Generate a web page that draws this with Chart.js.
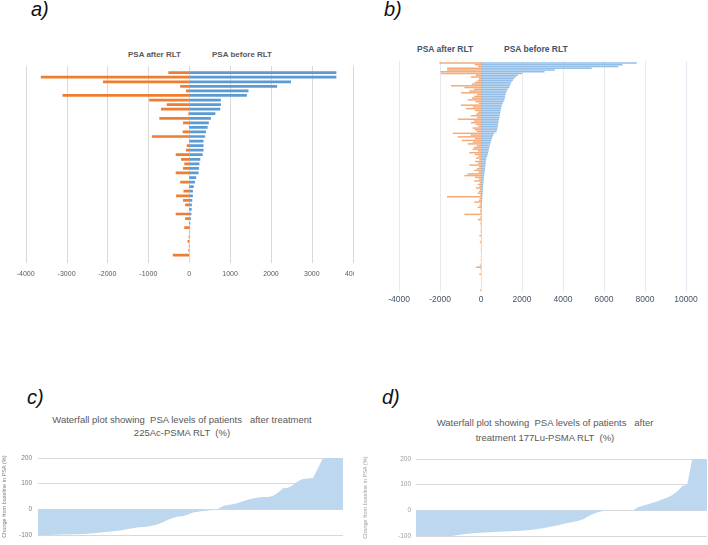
<!DOCTYPE html>
<html>
<head>
<meta charset="utf-8">
<script src="https://cdn.jsdelivr.net/npm/chart.js@4"></script>
<style>
  html, body { margin: 0; padding: 0; background: #fff; }
  body { position: relative; width: 708px; height: 545px; overflow: hidden; font-family: "Liberation Sans", Arial, sans-serif; }
  .box { position: absolute; overflow: hidden; }
  .panel-label { position: absolute; font-style: italic; font-size: 20px; line-height: 20px; color: #111; }
  .head { position: absolute; font-weight: bold; white-space: pre; }
  .title { position: absolute; text-align: center; white-space: pre; color: #595959; font-size: 9.5px; }
  canvas { position: absolute; left: 0; top: 0; }
</style>
</head>
<body>

<div class="panel-label" style="left:31px; top:-1px;">a)</div>
<div class="panel-label" style="left:384px; top:-1px;">b)</div>
<div class="panel-label" style="left:27px; top:387px;">c)</div>
<div class="panel-label" style="left:382px; top:387px;">d)</div>

<div class="head" style="left:128px; top:50px; font-size:8px; color:#595959;">PSA after RLT</div>
<div class="head" style="left:212px; top:50px; font-size:8px; color:#595959;">PSA before RLT</div>
<div class="head" style="left:417px; top:44px; font-size:8.5px; color:#44546A;">PSA after RLT</div>
<div class="head" style="left:504px; top:44px; font-size:8.5px; color:#44546A;">PSA before RLT</div>

<div class="title" style="left:0px; top:413px; width:364px; line-height:13px;">Waterfall plot showing  PSA levels of patients   after treatment
225Ac-PSMA RLT  (%)</div>
<div class="title" style="left:370px; top:416px; width:350px; line-height:14.5px;">Waterfall plot showing  PSA levels of patients   after
treatment 177Lu-PSMA RLT  (%)</div>

<div class="box" style="left:0px; top:0px; width:354px; height:290px;">
  <canvas id="chartA" width="390" height="290"></canvas>
</div>
<div class="box" style="left:354px; top:0px; width:354px; height:320px;">
  <canvas id="chartB" width="354" height="320"></canvas>
</div>
<div class="box" style="left:0px; top:440px; width:354px; height:105px;">
  <canvas id="chartC" width="354" height="105"></canvas>
</div>
<div class="box" style="left:354px; top:440px; width:354px; height:105px;">
  <canvas id="chartD" width="354" height="105"></canvas>
</div>

<script>
// panel a) PSA before / after RLT (225Ac)
const aBefore = [3600, 3600, 2490, 2150, 1450, 1410, 775, 775, 760, 640, 530, 480, 450, 410, 390, 350, 350, 350, 330, 270,
  250, 240, 230, 170, 140, 110, 90, 90, 75, 65, 60, 55, 40, 25, 15, 10, 8, 5, 5, 3, 2];
const aAfter = [-510, -3630, -2110, -220, -80, -3100, -980, -550, -690, -20, -730, -150, 0, -160, -910, 0, -60, -80, -330, -200,
  -120, -150, -330, 0, -220, 0, -140, -320, -150, -100, 0, -330, -100, 0, -120, 0, -15, -40, -10, -20, -400];
const aTicks = [-4000, -3000, -2000, -1000, 0, 1000, 2000, 3000, 4000];

// panel b) PSA before / after RLT (177Lu)
const bBefore = [7600, 6900, 6700, 5400, 3600, 3100, 2000, 1800, 1700, 1600,
  1550, 1480, 1450, 1400, 1380, 1300, 1260, 1220, 1200, 1180,
  1160, 1140, 1100, 1060, 1020, 990, 980, 960, 950, 930,
  910, 900, 880, 860, 850, 830, 820, 810, 780, 760,
  640, 600, 560, 530, 500, 480, 450, 430, 410, 390,
  370, 350, 330, 300, 270, 250, 240, 230, 220, 210,
  200, 190, 175, 165, 155, 145, 135, 130, 120, 110,
  100, 95, 90, 85, 80, 75, 70, 65, 60, 55,
  50, 45, 40, 35, 30, 28, 27, 26, 25, 24,
  23, 22, 21, 20, 20, 19, 18, 18, 17, 16,
  16, 15, 15, 14, 14, 13, 13, 12, 12, 11,
  11, 10, 10, 9, 9, 8, 8, 7, 7, 6,
  6, 5, 5, 4, 4, 3, 3, 3, 2, 2];
const bAfter = [-2030, -300, -150, -1650, -1660, -1980, -1950, -250, -490, -100,
  -160, -300, -450, -1460, -810, -350, -570, -980, -200, -330,
  -450, -650, -280, -120, -980, -400, -730, -300, -150, -240,
  -500, -200, -1140, -350, -490, -250, -120, -410, -300, -200,
  -1380, -500, -1140, -300, -940, -400, -650, -200, -350, -410,
  -150, -570, -300, -120, -240, -80, -300, -150, -570, -100,
  -200, -330, -120, -650, -810, -300, -100, -330, -60, -160,
  -80, -240, -50, -100, -160, -40, -1660, -60, -100, -330,
  -30, -80, -160, -20, -50, -30, -810, -20, -40, -160,
  -10, -30, -20, 0, -15, -10, -20, 0, -80, -10,
  0, -20, -60, 0, -10, 0, -20, 0, -5, 0,
  -10, 0, -15, 0, -20, -60, -240, -30, 0, -10,
  -80, 0, 0, -10, 0, 0, -5, 0, 0, -50];
const bTicks = [-4000, -2000, 0, 2000, 4000, 6000, 8000, 10000];

// panel c) waterfall, change from baseline (%) after 225Ac-PSMA RLT
const cChange = [-100, -100, -100, -99, -99, -98, -98, -97, -97, -96,
  -95, -93, -91, -89, -87, -85, -83, -80, -76, -73,
  -69, -68, -67, -63, -58, -50, -40, -33, -28, -27,
  -20, -12, -9, -6, -4, -2, 2, 13, 17, 20,
  25, 32, 38, 42, 46, 48, 48, 52, 65, 82,
  84, 95, 110, 118, 120, 122, 160, 200, 200, 200,
  200, 200];

// panel d) waterfall, change from baseline (%) after 177Lu-PSMA RLT
const dChange = [-100, -100, -100, -100, -100, -100, -100, -100, -98, -95,
  -92, -90, -88, -87, -86, -85, -84, -83, -82, -81,
  -80, -79, -78, -76, -74, -71, -68, -65, -61, -57,
  -52, -48, -44, -40, -33, -22, -13, -6, -2, 0,
  0, 0, 0, 0, 0, 12, 18, 24, 30, 36,
  43, 50, 60, 75, 95, 100, 200, 200, 200, 200];
const pctTicks = [-100, 0, 100, 200];

// vertical grid lines that run a little past the bars, like the Excel plot
const extendGrid = {
  id: "extendGrid",
  beforeDatasetsDraw(chart, args, opts) {
    const { ctx, chartArea, scales } = chart;
    const xs = scales.x;
    ctx.save();
    ctx.strokeStyle = opts.color;
    ctx.lineWidth = 1;
    xs.ticks.forEach((t) => {
      const px = Math.round(xs.getPixelForValue(t.value)) + 0.5;
      ctx.beginPath();
      ctx.moveTo(px, chartArea.top - opts.above);
      ctx.lineTo(px, chartArea.bottom + opts.below);
      ctx.stroke();
    });
    ctx.restore();
  },
};

function createBarChart(id, before, after, ticks, cfg) {
  const labels = before.map((v, i) => "P" + (i + 1));
  return new Chart(document.getElementById(id).getContext("2d"), {
    type: "bar",
    data: {
      labels: labels,
      datasets: [
        {
          label: "PSA after RLT",
          data: after,
          backgroundColor: cfg.orange,
          barPercentage: cfg.barPct,
          categoryPercentage: 1,
        },
        {
          label: "PSA before RLT",
          data: before,
          backgroundColor: cfg.blue,
          barPercentage: cfg.barPct,
          categoryPercentage: 1,
        },
      ],
    },
    options: {
      indexAxis: "y",
      responsive: false,
      animation: false,
      layout: { padding: cfg.padding },
      plugins: {
        legend: { display: false },
        tooltip: { enabled: false },
        extendGrid: cfg.grid,
      },
      scales: {
        x: {
          type: "linear",
          stacked: true,
          min: ticks[0],
          max: ticks[ticks.length - 1],
          afterBuildTicks: (scale) => {
            scale.ticks = ticks.map((v) => ({ value: v }));
          },
          afterFit: (scale) => {
            scale.height = cfg.axisHeight;
          },
          grid: { display: false, drawTicks: false },
          border: { display: false },
          ticks: {
            padding: cfg.tickPad,
            color: cfg.tickColor,
            font: { size: cfg.tickSize, family: "Liberation Sans" },
            maxRotation: 0,
            autoSkip: false,
            callback: (value) => value,
          },
        },
        y: {
          stacked: true,
          display: false,
        },
      },
    },
    plugins: [extendGrid],
  });
}

function createWaterfall(id, values, cfg) {
  const labels = values.map((v, i) => i + 1);
  return new Chart(document.getElementById(id).getContext("2d"), {
    type: "line",
    data: {
      labels: labels,
      datasets: [
        {
          data: values,
          fill: "origin",
          backgroundColor: "#BDD7EE",
          borderWidth: 0,
          borderColor: "rgba(0,0,0,0)",
          pointRadius: 0,
          tension: 0,
        },
      ],
    },
    options: {
      responsive: false,
      animation: false,
      layout: { padding: cfg.padding },
      plugins: { legend: { display: false }, tooltip: { enabled: false } },
      scales: {
        x: { display: false },
        y: {
          min: -100,
          max: 200,
          afterBuildTicks: (scale) => {
            scale.ticks = pctTicks.map((v) => ({ value: v }));
          },
          afterFit: (scale) => {
            scale.width = cfg.axisWidth;
          },
          grid: { color: "#d9d9d9", drawTicks: false },
          border: { display: false },
          ticks: {
            padding: cfg.tickPad,
            color: cfg.tickColor,
            font: { size: 6.5, family: "Liberation Sans" },
          },
          title: {
            display: true,
            text: "Change from baseline in PSA (%)",
            color: cfg.tickColor,
            font: { size: 5.5, family: "Liberation Sans" },
            padding: { top: cfg.titlePad, bottom: 0 },
          },
        },
      },
    },
  });
}

const chartA = createBarChart("chartA", aBefore, aAfter, aTicks, {
  orange: "#ED7D31",
  blue: "#5B9BD5",
  barPct: 0.6,
  padding: { left: 25.7, right: 37.3, top: 70.4, bottom: 12.7 },
  axisHeight: 20,
  tickPad: 13,
  tickColor: "#595959",
  tickSize: 7,
  grid: { color: "#d9d9d9", above: 4.4, below: 5.7 },
});

const chartB = createBarChart("chartB", bBefore, bAfter, bTicks, {
  orange: "#F5AA78",
  blue: "#94BDE6",
  barPct: 0.85,
  padding: { left: 45, right: 22, top: 62, bottom: 13 },
  axisHeight: 16,
  tickPad: 4,
  tickColor: "#44546A",
  tickSize: 8.5,
  grid: { color: "#e6e9f0", above: 1, below: 1 },
});

const chartC = createWaterfall("chartC", cChange, {
  padding: { left: 0, right: 11, top: 18, bottom: 5 },
  axisWidth: 38,
  tickPad: 6,
  tickColor: "#7f7f7f",
  titlePad: 1,
});

const chartD = createWaterfall("chartD", dChange, {
  padding: { left: 0, right: 1, top: 19, bottom: 3 },
  axisWidth: 62,
  tickPad: 5,
  tickColor: "#a0a0a0",
  titlePad: 8,
});
</script>
</body>
</html>
